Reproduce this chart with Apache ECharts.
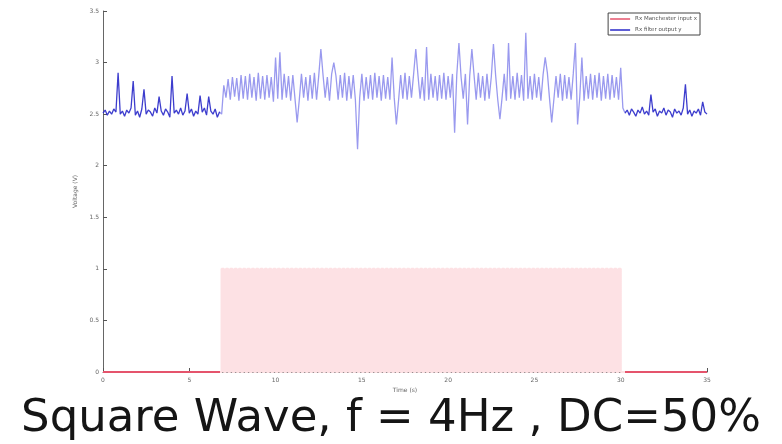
<!DOCTYPE html>
<html>
<head>
<meta charset="utf-8">
<script src="https://cdn.jsdelivr.net/npm/echarts@6/dist/echarts.min.js"></script>
<style>
html,body{margin:0;padding:0;background:#fff;}
#chart{width:782px;height:444px;}
</style>
</head>
<body>
<div id="chart"></div>
<script>
// sample period of the recorded signals (s)
const SAMPLE_DT = 0.125;

const xTickLabels = ['0', '5', '10', '15', '20', '25', '30', '35'];
const yTickLabels = ['0', '0.5', '1', '1.5', '2', '2.5', '3', '3.5'];
const seriesNames = ['Rx Manchester input x', 'Rx filter output y'];

// Rx Manchester input x (square wave, 4 Hz, 50% duty)
const inputX = [
  0,0,0,0,0,0,0,0,0,0, 0,0,0,0,0,0,0,0,0,0, 0,0,0,0,0,0,0,0,0,0,
  0,0,0,0,0,0,0,0,0,0, 0,0,0,0,0,0,0,0,0,0, 0,0,0,0,0,
  1,0,1,0,1,0,1,0,1,0, 1,0,1,0,1,0,1,0,1,0, 1,0,1,0,1,0,1,0,1,0,
  1,0,1,0,1,0,1,0,1,0, 1,0,1,0,1,0,1,0,1,0, 1,0,1,0,1,0,1,0,1,0,
  1,0,1,0,1,0,1,0,1,0, 1,0,1,0,1,0,1,0,1,0, 1,0,1,0,1,0,1,0,1,0,
  1,0,1,0,1,0,1,0,1,0, 1,0,1,0,1,0,1,0,1,0, 1,0,1,0,1,0,1,0,1,0,
  1,0,1,0,1,0,1,0,1,0, 1,0,1,0,1,0,1,0,1,0, 1,0,1,0,1,0,1,0,1,0,
  1,0,1,0,1,0,1,0,1,0, 1,0,1,0,1,0,1,0,1,0, 1,0,1,0,1,0,1,0,1,0,
  1,0,1,0,1,0,
  0,0,0,0,0,0,0,0,0,0, 0,0,0,0,0,0,0,0,0,0, 0,0,0,0,0,0,0,0,0,0, 0,0,0,0,0,0,0,0,0,0
];

// Rx filter output y
const outputY = [
  2.51,2.54,2.49,2.53,2.50,2.55,2.52,2.90,2.50,2.53,
  2.48,2.54,2.51,2.56,2.82,2.49,2.53,2.47,2.55,2.74,
  2.50,2.54,2.52,2.48,2.56,2.51,2.67,2.53,2.49,2.55,
  2.52,2.47,2.87,2.51,2.54,2.50,2.56,2.49,2.53,2.70,
  2.51,2.55,2.48,2.53,2.50,2.68,2.52,2.56,2.49,2.67,
  2.53,2.50,2.55,2.47,2.52,2.50,
  2.78,2.66,2.84,2.64,2.86,2.67,2.85,2.63,2.88,2.65,
  2.87,2.64,2.89,2.66,2.86,2.63,2.90,2.65,2.87,2.64,
  2.88,2.66,2.86,2.62,3.05,2.65,3.10,2.64,2.89,2.66,
  2.87,2.63,2.88,2.65,2.42,2.64,2.89,2.66,2.86,2.63,
  2.88,2.65,2.90,2.64,2.87,3.13,2.88,2.66,2.86,2.63,
  2.89,3.00,2.87,2.64,2.88,2.66,2.90,2.63,2.87,2.65,
  2.88,2.64,2.16,2.66,2.89,2.63,2.86,2.65,2.88,2.64,
  2.90,2.66,2.87,2.63,2.88,2.65,2.86,2.64,3.05,2.66,
  2.40,2.63,2.88,2.65,2.90,2.64,2.87,2.66,2.89,3.13,
  2.88,2.65,2.86,2.63,3.15,2.64,2.89,2.66,2.87,2.63,
  2.88,2.65,2.90,2.64,2.87,2.66,2.89,2.32,2.88,3.19,
  2.86,2.65,2.89,2.40,2.87,3.13,2.88,2.64,2.90,2.66,
  2.87,2.63,2.89,2.65,2.86,3.18,2.88,2.64,2.45,2.66,
  2.89,2.63,3.19,2.65,2.87,2.64,2.90,2.66,2.88,2.63,
  3.29,2.65,2.87,2.64,2.89,2.66,2.86,2.63,2.88,3.05,
  2.90,2.65,2.42,2.64,2.87,2.66,2.89,2.63,2.88,2.65,
  2.86,2.64,2.89,3.19,2.40,2.66,3.05,2.63,2.87,2.65,
  2.89,2.64,2.88,2.66,2.90,2.63,2.87,2.65,2.89,2.64,
  2.88,2.66,2.86,2.64,2.95,
  2.56,2.51,2.54,2.49,2.55,2.52,2.48,2.54,2.51,2.57,
  2.50,2.53,2.49,2.69,2.52,2.55,2.48,2.53,2.51,2.56,
  2.49,2.54,2.52,2.47,2.55,2.51,2.53,2.49,2.56,2.79,
  2.50,2.54,2.48,2.53,2.51,2.55,2.49,2.62,2.52,2.50
];

const chart = echarts.init(document.getElementById('chart'), null, {renderer: 'canvas'});

const toPairs = arr => arr.map((v, i) => [i * SAMPLE_DT, v]);

const RED = '#e5546c';
const PINK = '#fde1e4';
const BLUE_DARK = 'rgba(40,40,200,0.9)';
const BLUE_LIGHT = 'rgba(70,70,225,0.55)';

const axisCommon = {
  axisLine: {show: true, lineStyle: {color: '#666', width: 1}},
  axisTick: {show: true, inside: true, length: 4, lineStyle: {color: '#555'}},
  splitLine: {show: false},
  axisLabel: {fontSize: 6, color: '#666', fontFamily: 'DejaVu Sans'},
  nameTextStyle: {fontSize: 6, color: '#666', fontFamily: 'DejaVu Sans'}
};

const bandStops = (outer, inner) => new echarts.graphic.LinearGradient(0, 0, 1, 0, [
  {offset: 0, color: outer},
  {offset: 0.1955, color: outer},
  {offset: 0.1965, color: inner},
  {offset: 0.8605, color: inner},
  {offset: 0.8615, color: outer},
  {offset: 1, color: outer}
]);

chart.setOption({
  animation: false,
  backgroundColor: '#fff',
  title: {
    text: 'Square Wave, f = 4Hz , DC=50%',
    left: 'center',
    top: 392,
    textStyle: {fontSize: 45, fontWeight: 'normal', color: '#151515', fontFamily: 'DejaVu Sans'}
  },
  legend: {
    orient: 'vertical',
    right: 82,
    top: 13,
    itemWidth: 20,
    itemHeight: 1.5,
    itemGap: 5,
    padding: [3, 3, 2, 2],
    borderColor: '#444',
    borderWidth: 1,
    backgroundColor: '#fff',
    textStyle: {fontSize: 5.5, color: '#555', fontFamily: 'DejaVu Sans'},
    data: [
      {name: seriesNames[0], icon: 'rect', itemStyle: {color: RED}},
      {name: seriesNames[1], icon: 'rect', itemStyle: {color: '#2828c8'}}
    ]
  },
  grid: {left: 103, right: 75, top: 11, bottom: 72, containLabel: false},
  xAxis: Object.assign({}, axisCommon, {
    type: 'value', min: 0, max: 35, interval: 5,
    name: 'Time (s)', nameLocation: 'middle', nameGap: 15,
    axisLabel: Object.assign({}, axisCommon.axisLabel, {
      margin: 5,
      formatter: v => xTickLabels[Math.round(v / 5)]
    })
  }),
  yAxis: Object.assign({}, axisCommon, {
    type: 'value', min: 0, max: 3.5, interval: 0.5,
    name: 'Voltage (V)', nameLocation: 'middle', nameGap: 11,
    axisLabel: Object.assign({}, axisCommon.axisLabel, {
      margin: 4,
      formatter: v => yTickLabels[Math.round(v / 0.5)]
    })
  }),
  series: [
    {
      name: seriesNames[0],
      type: 'line',
      step: 'end',
      symbol: 'none',
      data: toPairs(inputX),
      color: RED,
      lineStyle: {width: 2.2, color: bandStops(RED, PINK)},
      z: 2
    },
    {
      name: seriesNames[1],
      type: 'line',
      symbol: 'none',
      data: toPairs(outputY),
      color: '#2828c8',
      lineStyle: {width: 1.3, color: bandStops(BLUE_DARK, BLUE_LIGHT)},
      z: 3
    }
  ]
});
</script>
</body>
</html>
